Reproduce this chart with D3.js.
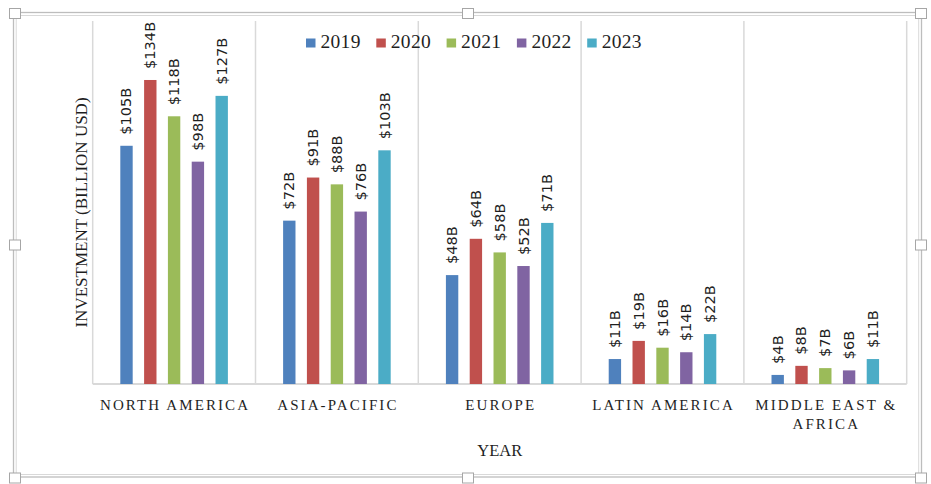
<!DOCTYPE html>
<html>
<head>
<meta charset="utf-8">
<script src="https://cdn.jsdelivr.net/npm/d3@7"></script>
<style>
  body { margin: 0; background: #fff; }
  svg { display: block; }
</style>
</head>
<body>
<script>
// chart data
const regions = ["NORTH AMERICA", "ASIA-PACIFIC", "EUROPE", "LATIN AMERICA", "MIDDLE EAST & AFRICA"];
const years = ["2019", "2020", "2021", "2022", "2023"];
const v2019 = [105, 72, 48, 11, 4];
const v2020 = [134, 91, 64, 19, 8];
const v2021 = [118, 88, 58, 16, 7];
const v2022 = [98, 76, 52, 14, 6];
const v2023 = [127, 103, 71, 22, 11];
const seriesValues = [v2019, v2020, v2021, v2022, v2023];
const colors = ["#4F81BD", "#C0504D", "#9BBB59", "#8064A2", "#4BACC6"];
const yMax = 160;

const W = 931, H = 484;
const plot = { left: 92.7, right: 906.7, top: 21, bottom: 384 };
const serif = "'Liberation Serif', 'Times New Roman', serif";

const svg = d3.select("body").append("svg")
    .attr("width", W)
    .attr("height", H);

// chart frame (selected chart look)
svg.append("rect")
    .attr("x", 13.5).attr("y", 12.5)
    .attr("width", 908).attr("height", 464.5)
    .attr("fill", "none")
    .attr("stroke", "#bdbdbd")
    .attr("stroke-width", 1.3);
svg.append("rect")
    .attr("x", 16.2).attr("y", 15.5)
    .attr("width", 902.5).attr("height", 459)
    .attr("fill", "none")
    .attr("stroke", "#d9d9d9")
    .attr("stroke-width", 1);

const x0 = d3.scaleBand()
    .domain(regions)
    .range([plot.left, plot.right])
    .paddingInner(0)
    .paddingOuter(0);

const x1 = d3.scaleBand()
    .domain(years)
    .range([0, x0.bandwidth()])
    .paddingInner(0.48)
    .paddingOuter(1.16);

const y = d3.scaleLinear()
    .domain([0, yMax])
    .range([plot.bottom, plot.top]);

// vertical separators between categories
const grid = svg.append("g").attr("class", "grid");
const edges = regions.map(r => x0(r)).concat([plot.right]);
grid.selectAll("line.v")
    .data(edges)
    .join("line")
    .attr("class", "v")
    .attr("x1", d => d).attr("x2", d => d)
    .attr("y1", plot.top).attr("y2", plot.bottom)
    .attr("stroke", "#d9d9d9")
    .attr("stroke-width", 1.5);
grid.append("line")
    .attr("x1", plot.left).attr("x2", plot.right)
    .attr("y1", plot.bottom).attr("y2", plot.bottom)
    .attr("stroke", "#d9d9d9")
    .attr("stroke-width", 1.8);

// bars + labels
const bars = svg.append("g");
years.forEach((yr, s) => {
    const vals = seriesValues[s];
    const g = bars.append("g");
    g.selectAll("rect")
        .data(vals)
        .join("rect")
        .attr("x", (d, i) => x0(regions[i]) + x1(yr))
        .attr("y", d => y(d))
        .attr("width", x1.bandwidth())
        .attr("height", d => plot.bottom - y(d))
        .attr("fill", colors[s]);

    g.selectAll("text")
        .data(vals)
        .join("text")
        .attr("transform", (d, i) => {
            const cx = x0(regions[i]) + x1(yr) + x1.bandwidth() / 2;
            return `translate(${cx + 5},${y(d) - 11}) rotate(-90)`;
        })
        .attr("font-family", "'DejaVu Sans', sans-serif")
        .attr("font-size", 14.6)
        .attr("fill", "#1f1f1f")
        .text(d => "$" + d + "B");
});

// category labels (wrap long one)
const catLines = {
    "MIDDLE EAST & AFRICA": ["MIDDLE EAST &", "AFRICA"]
};
const cats = svg.append("g");
regions.forEach(r => {
    const lines = catLines[r] || [r];
    const cx = x0(r) + x0.bandwidth() / 2;
    const t = cats.append("text")
        .attr("font-family", serif)
        .attr("font-size", 15)
        .attr("letter-spacing", 2.1)
        .attr("fill", "#1f1f1f")
        .attr("text-anchor", "middle");
    lines.forEach((ln, k) => {
        t.append("tspan")
            .attr("x", cx + 1)
            .attr("y", 410 + k * 19)
            .text(ln);
    });
});

// axis titles
svg.append("text")
    .attr("x", (plot.left + plot.right) / 2)
    .attr("y", 456)
    .attr("text-anchor", "middle")
    .attr("font-family", serif)
    .attr("font-size", 16.5)
    .attr("fill", "#1f1f1f")
    .text("YEAR");

svg.append("text")
    .attr("transform", "translate(86.5,212.5) rotate(-90)")
    .attr("text-anchor", "middle")
    .attr("font-family", serif)
    .attr("font-size", 17)
    .attr("fill", "#1f1f1f")
    .text("INVESTMENT (BILLION USD)");

// legend
const legend = svg.append("g").attr("transform", "translate(306,0)");
const item = legend.selectAll("g")
    .data(years)
    .join("g")
    .attr("transform", (d, i) => `translate(${i * 70.3},0)`);
item.append("rect")
    .attr("x", 0).attr("y", 38.5)
    .attr("width", 9.5).attr("height", 9)
    .attr("fill", (d, i) => colors[i]);
item.append("text")
    .attr("x", 14.5)
    .attr("y", 48)
    .attr("font-family", serif)
    .attr("font-size", 19.5)
    .attr("letter-spacing", 0.3)
    .attr("fill", "#1f1f1f")
    .text(d => d);

// resize handles
const hx = [15, 468, 921];
const hy = [13.5, 245, 478];
const handles = [];
hx.forEach((a, i) => hy.forEach((b, j) => {
    if (!(i === 1 && j === 1)) handles.push([a, b]);
}));
svg.append("g").selectAll("rect")
    .data(handles)
    .join("rect")
    .attr("x", d => d[0] - 5.5)
    .attr("y", d => d[1] - 5)
    .attr("width", 11)
    .attr("height", 10)
    .attr("fill", "#fff")
    .attr("stroke", "#a6a6a6")
    .attr("stroke-width", 1);
</script>
</body>
</html>
